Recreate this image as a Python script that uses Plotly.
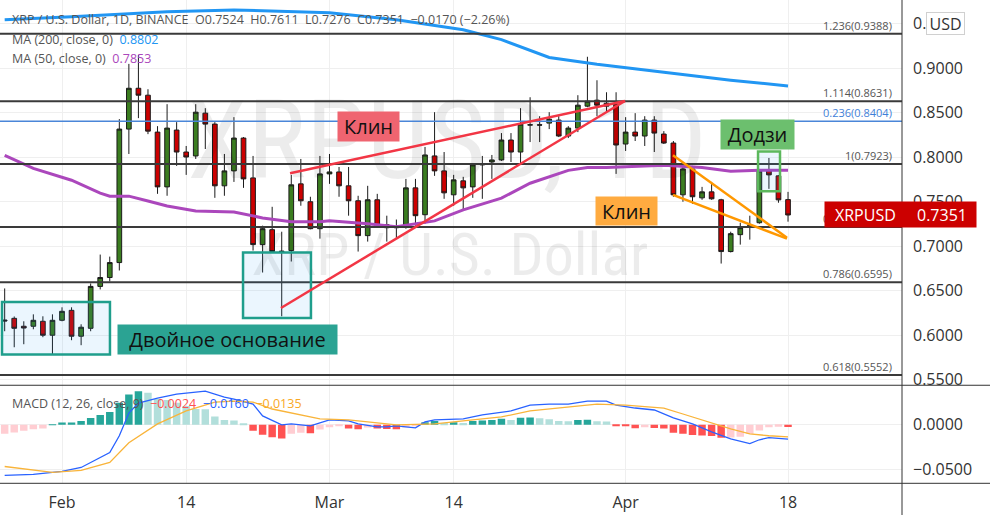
import plotly.graph_objects as go
import pandas as pd

# ---------------- data ----------------
start_date = "2022-01-26"
end_date = "2022-04-18"

opens = [0.6170,0.6189,0.6100,0.6100,0.6156,0.5999,0.6167,0.6279,0.5988,0.6077,
         0.6548,0.6648,0.6816,0.8317,0.8776,0.8698,0.8283,0.7667,0.8306,0.8059,
         0.8015,0.8496,0.8373,0.7679,0.7847,0.8216,0.7768,0.7018,0.7186,0.6945,
         0.6951,0.7701,0.7500,0.7197,0.7813,0.7835,0.7679,0.7511,0.7119,0.7522,
         0.7242,0.7208,0.7220,0.7656,0.7354,0.8015,0.7847,0.7578,0.7735,0.7667,
         0.7914,0.7947,0.7970,0.8194,0.8059,0.8362,0.8365,0.8384,0.8418,0.8239,
         0.8328,0.8575,0.8642,0.8608,0.8597,0.8149,0.8283,0.8239,0.8418,0.8261,
         0.8160,0.7578,0.7869,0.7544,0.7611,0.7522,0.6940,0.7130,0.7220,0.7264,
         0.7847,0.7791,0.7524]
highs = [0.6525,0.6210,0.6156,0.6234,0.6212,0.6234,0.6313,0.6313,0.6122,0.6581,
         0.6906,0.6883,0.8429,0.9050,0.9150,0.8765,0.8350,0.8597,0.8395,0.8127,
         0.8597,0.8552,0.8395,0.8037,0.8451,0.8227,0.8015,0.7231,0.7443,0.7163,
         0.7802,0.7981,0.7556,0.8015,0.8037,0.7891,0.7891,0.7567,0.7679,0.7589,
         0.7343,0.7300,0.7757,0.7757,0.8116,0.8507,0.8059,0.7802,0.7780,0.7936,
         0.8015,0.8026,0.8272,0.8272,0.8552,0.8675,0.8462,0.8507,0.8462,0.8350,
         0.8698,0.9130,0.8866,0.8731,0.8731,0.8451,0.8496,0.8462,0.8462,0.8294,
         0.8183,0.7903,0.7903,0.7667,0.7723,0.7533,0.7163,0.7264,0.7343,0.7860,
         0.7992,0.7800,0.7611]
lows = [0.6044,0.5864,0.5898,0.6066,0.5977,0.5786,0.6156,0.5943,0.5887,0.6044,
        0.6514,0.6604,0.6727,0.8037,0.8440,0.8260,0.7589,0.7567,0.7903,0.7802,
        0.7981,0.8093,0.7544,0.7567,0.7723,0.7656,0.6951,0.6704,0.6930,0.6212,
        0.6828,0.7455,0.7190,0.7085,0.7701,0.7556,0.7343,0.6940,0.7052,0.7208,
        0.7052,0.7085,0.7197,0.7231,0.7253,0.7791,0.7533,0.7455,0.7399,0.7544,
        0.7533,0.7757,0.7959,0.7947,0.7925,0.8171,0.8171,0.8317,0.8227,0.8216,
        0.8283,0.8563,0.8462,0.8518,0.7813,0.8071,0.8183,0.8127,0.8059,0.8149,
        0.7556,0.7500,0.7477,0.7522,0.7522,0.6805,0.6930,0.7018,0.7074,0.7253,
        0.7645,0.7489,0.7276]
closes = [0.6160,0.6077,0.6080,0.6167,0.5999,0.6167,0.6268,0.5988,0.6089,0.6548,
          0.6648,0.6816,0.8317,0.8776,0.8698,0.8294,0.7667,0.8328,0.8059,0.8003,
          0.8507,0.8373,0.7679,0.7847,0.8216,0.7757,0.7018,0.7197,0.6940,0.6940,
          0.7690,0.7511,0.7197,0.7813,0.7835,0.7679,0.7511,0.7119,0.7522,0.7231,
          0.7208,0.7220,0.7656,0.7343,0.8026,0.7847,0.7600,0.7746,0.7656,0.7914,
          0.7925,0.7970,0.8194,0.8059,0.8373,0.8365,0.8362,0.8429,0.8239,0.8328,
          0.8586,0.8631,0.8586,0.8575,0.8138,0.8283,0.8239,0.8418,0.8272,0.8160,
          0.7578,0.7869,0.7556,0.7611,0.7533,0.6940,0.7141,0.7208,0.7231,0.7847,
          0.7802,0.7521,0.7351]

ma200_dates = ["2022-01-26","2022-02-02","2022-02-12","2022-02-19","2022-03-01","2022-03-08",
               "2022-03-15","2022-03-19","2022-03-24","2022-03-29","2022-04-05","2022-04-12","2022-04-18"]
ma200_vals = [0.9546,0.9579,0.9635,0.9657,0.9624,0.9546,0.9434,0.9323,0.9122,0.9045,0.8955,0.8866,0.8802]

ma50_dates = ["2022-01-26","2022-01-29","2022-02-02","2022-02-05","2022-02-06","2022-02-08","2022-02-10",
              "2022-02-12","2022-02-15","2022-02-19","2022-02-22","2022-02-25","2022-02-28","2022-03-01",
              "2022-03-05","2022-03-08","2022-03-12","2022-03-15","2022-03-19","2022-03-22","2022-03-26",
              "2022-03-28","2022-03-30","2022-04-02","2022-04-05","2022-04-09","2022-04-12","2022-04-15",
              "2022-04-18"]
ma50_vals = [0.8020,0.7875,0.7742,0.7597,0.7563,0.7563,0.7508,0.7452,0.7396,0.7385,0.7318,0.7274,
             0.7274,0.7285,0.7252,0.7218,0.7285,0.7408,0.7541,0.7708,0.7853,0.7886,0.7886,0.7898,
             0.7909,0.7886,0.7842,0.7853,0.7853]

macd_hist = [-0.0100,-0.0085,-0.0065,-0.0050,-0.0040,0.0003,0.0026,0.0028,0.0044,0.0078,
             0.0110,0.0144,0.0248,0.0342,0.0378,0.0360,0.0289,0.0280,0.0248,0.0211,
             0.0178,0.0175,0.0093,0.0055,0.0050,0.0010,-0.0067,-0.0111,-0.0140,-0.0152,
             -0.0100,-0.0089,-0.0095,-0.0052,-0.0026,-0.0015,-0.0041,-0.0050,-0.0030,-0.0040,
             -0.0045,-0.0050,-0.0030,-0.0010,0.0030,0.0044,0.0020,0.0030,0.0020,0.0044,
             0.0048,0.0055,0.0070,0.0055,0.0080,0.0082,0.0074,0.0063,0.0044,0.0040,
             0.0055,0.0058,0.0041,0.0038,-0.0005,-0.0010,-0.0037,-0.0026,-0.0035,-0.0041,
             -0.0089,-0.0100,-0.0115,-0.0120,-0.0125,-0.0145,-0.0143,-0.0133,-0.0100,-0.0063,
             -0.0026,-0.0020,-0.0024]

macd_dates = ["2022-01-26","2022-01-29","2022-02-01","2022-02-03","2022-02-06","2022-02-07","2022-02-08",
              "2022-02-09","2022-02-11","2022-02-13","2022-02-16","2022-02-18","2022-02-19","2022-02-21",
              "2022-02-22","2022-02-24","2022-02-25","2022-02-27","2022-02-28","2022-03-01","2022-03-03",
              "2022-03-04","2022-03-06","2022-03-07","2022-03-08","2022-03-10","2022-03-11","2022-03-12",
              "2022-03-15","2022-03-17","2022-03-20","2022-03-22","2022-03-24","2022-03-26","2022-03-28",
              "2022-03-30","2022-03-31","2022-04-02","2022-04-04","2022-04-06","2022-04-08","2022-04-10",
              "2022-04-12","2022-04-14","2022-04-15","2022-04-16","2022-04-18"]
macd_vals = [-0.0567,-0.0556,-0.0522,-0.0478,-0.0311,-0.0122,0.0133,0.0244,0.0300,0.0344,0.0378,
             0.0311,0.0289,0.0233,0.0100,0.0000,0.0011,-0.0011,0.0022,0.0056,0.0044,0.0011,-0.0022,
             -0.0022,-0.0011,-0.0033,0.0033,0.0056,0.0067,0.0111,0.0156,0.0222,0.0233,0.0233,0.0267,
             0.0267,0.0222,0.0189,0.0167,0.0078,0.0011,-0.0078,-0.0156,-0.0211,-0.0167,-0.0144,-0.0160]

signal_dates = ["2022-01-26","2022-01-29","2022-01-31","2022-02-03","2022-02-06","2022-02-08","2022-02-11",
                "2022-02-14","2022-02-17","2022-02-19","2022-02-21","2022-02-23","2022-02-26","2022-02-28",
                "2022-03-03","2022-03-06","2022-03-08","2022-03-12","2022-03-15","2022-03-19","2022-03-22",
                "2022-03-26","2022-03-29","2022-04-01","2022-04-05","2022-04-07","2022-04-10","2022-04-12",
                "2022-04-14","2022-04-16","2022-04-18"]
signal_vals = [-0.0467,-0.0511,-0.0533,-0.0511,-0.0422,-0.0200,0.0011,0.0156,0.0256,0.0267,0.0256,
               0.0178,0.0111,0.0067,0.0056,0.0022,0.0000,0.0011,0.0044,0.0089,0.0156,0.0200,0.0233,
               0.0222,0.0189,0.0122,0.0022,-0.0044,-0.0100,-0.0122,-0.0135]

fib_ratios = ["1.236", "1.114", "1", "0.886", "0.786", "0.618"]
fib_prices = [0.9388, 0.8631, 0.7923, 0.7216, 0.6595, 0.5552]
fib2_ratio = "0.236"
fib2_price = 0.8404

price_ticks = [0.55, 0.60, 0.65, 0.70, 0.75, 0.80, 0.85, 0.90, 0.95]
macd_ticks = [-0.05, 0.0]
date_tickvals = ["2022-02-01", "2022-02-14", "2022-03-01", "2022-03-14", "2022-04-01", "2022-04-18"]
date_ticktext = ["Feb", "14", "Mar", "14", "Apr", "18"]

last_price = 0.7351

# ---------------- helpers ----------------
BASE = pd.Timestamp(start_date)
def day(d):
    return (BASE + pd.Timedelta(days=d)).strftime("%Y-%m-%d %H:%M:%S")

dates = pd.date_range(start_date, end_date, freq="D")
FONT = "Open Sans, Noto Sans, sans-serif"
WM_FONT = "Liberation Sans Narrow, Arial Narrow, Roboto Condensed, Roboto, sans-serif"

# histogram colours (TradingView style)
hist_colors = []
prev = None
for h in macd_hist:
    rising = True if prev is None else h > prev
    if h >= 0:
        hist_colors.append("#26A69A" if rising else "#B2DFDB")
    else:
        hist_colors.append("#FFCDD2" if rising else "#FF5252")
    prev = h

fig = go.Figure()

# watermark (behind everything)
fig.add_trace(go.Scatter(x=[day(46.3)], y=[0.8081], mode="text", text=["XRPUSD, 1D"],
                         textfont=dict(size=110, color="rgba(0,0,0,0.075)", family=WM_FONT),
                         hoverinfo="skip", showlegend=False))
fig.add_trace(go.Scatter(x=[day(46.6)], y=[0.6840], mode="text", text=["XRP / U.S. Dollar"],
                         textfont=dict(size=60, color="rgba(0,0,0,0.075)", family=WM_FONT),
                         hoverinfo="skip", showlegend=False))

fig.add_trace(go.Scatter(x=ma200_dates, y=ma200_vals, mode="lines",
                         line=dict(color="#2196F3", width=3), hoverinfo="skip", showlegend=False))
fig.add_trace(go.Scatter(x=ma50_dates, y=ma50_vals, mode="lines",
                         line=dict(color="#AB47BC", width=3), hoverinfo="skip", showlegend=False))

fig.add_trace(go.Candlestick(
    x=dates, open=opens, high=highs, low=lows, close=closes,
    increasing=dict(line=dict(color="#1b1b1b", width=1), fillcolor="#3b7d20"),
    decreasing=dict(line=dict(color="#1b1b1b", width=1), fillcolor="#cc0000"),
    whiskerwidth=0, hoverinfo="skip", showlegend=False))

fig.add_trace(go.Bar(x=dates, y=macd_hist, marker=dict(color=hist_colors, line=dict(width=0)),
                     xaxis="x2", yaxis="y2", hoverinfo="skip", showlegend=False))
fig.add_trace(go.Scatter(x=macd_dates, y=macd_vals, mode="lines", line=dict(color="#2962FF", width=1.3),
                         xaxis="x2", yaxis="y2", hoverinfo="skip", showlegend=False))
fig.add_trace(go.Scatter(x=signal_dates, y=signal_vals, mode="lines", line=dict(color="#F9B43A", width=1.3),
                         xaxis="x2", yaxis="y2", hoverinfo="skip", showlegend=False))

shapes = []
annotations = []

# fib levels
for r, p in zip(fib_ratios, fib_prices):
    shapes.append(dict(type="line", xref="x domain", yref="y", x0=0, x1=1, y0=p, y1=p,
                       line=dict(color="#3a3a3a", width=2), layer="above"))
    annotations.append(dict(xref="x domain", yref="y", x=0.99, y=p, xanchor="right", yanchor="bottom",
                            text=f"{r}({p:.4f})", showarrow=False, borderpad=0,
                            font=dict(size=11, color="#555", family=FONT)))
shapes.append(dict(type="line", xref="x domain", yref="y", x0=0, x1=1, y0=fib2_price, y1=fib2_price,
                   line=dict(color="#4a86d8", width=1.5), layer="above"))
annotations.append(dict(xref="x domain", yref="y", x=0.99, y=fib2_price, xanchor="right", yanchor="bottom",
                        text=f"{fib2_ratio}({fib2_price:.4f})", showarrow=False, borderpad=0,
                        font=dict(size=11, color="#3f7fd8", family=FONT)))

# pattern boxes
for x0, x1, y0, y1, col in [(-0.28, 11.02, 0.5782, 0.6372, "#1f9e8c"),
                            (24.95, 32.06, 0.6194, 0.6929, "#1f9e8c"),
                            (78.86, 81.16, 0.7619, 0.8065, "#5cb85c")]:
    shapes.append(dict(type="rect", xref="x", yref="y", x0=day(x0), x1=day(x1), y0=y0, y1=y1,
                       line=dict(color=col, width=2.5), fillcolor="rgba(33,150,243,0.09)", layer="above"))

# wedge lines
for x0, y0, x1, y1, col in [(29.87, 0.7820, 64.93, 0.8633, "#F23645"),
                            (28.92, 0.6305, 64.93, 0.8633, "#F23645"),
                            (69.96, 0.8023, 81.89, 0.7096, "#FF9800"),
                            (69.96, 0.7578, 81.89, 0.7085, "#FF9800")]:
    shapes.append(dict(type="line", xref="x", yref="y", x0=day(x0), x1=day(x1), y0=y0, y1=y1,
                       line=dict(color=col, width=2.5), layer="above"))

# labels
for txt, xc, yc, w, h, bg in [("Двойное основание", 23.32, 0.5954, 219, 29, "#2ba393"),
                              ("Клин", 38.08, 0.8349, 61, 29, "#ef6470"),
                              ("Клин", 65.09, 0.7396, 61, 28, "#ffab40"),
                              ("Додзи", 78.80, 0.8259, 73, 29, "#6cbf6e")]:
    annotations.append(dict(xref="x", yref="y", x=day(xc), y=yc, xanchor="center", yanchor="middle",
                            text=txt, showarrow=False, bgcolor=bg, width=w, height=h, borderpad=0,
                            font=dict(size=20, color="#111", family=FONT)))

# separators and price axis line
shapes.append(dict(type="line", xref="paper", yref="paper", x0=0, x1=1, y0=1 - 389 / 520, y1=1 - 389 / 520,
                   line=dict(color="#333", width=1)))
shapes.append(dict(type="line", xref="paper", yref="paper", x0=0, x1=1, y0=1 - 488 / 520, y1=1 - 488 / 520,
                   line=dict(color="#333", width=1)))
shapes.append(dict(type="line", xref="paper", yref="paper", x0=902 / 990, x1=902 / 990, y0=0, y1=1,
                   line=dict(color="#333", width=1)))

# last price badge
annotations.append(dict(xref="paper", yref="y", x=824 / 990, y=last_price, xanchor="left", yanchor="middle",
                        text="&nbsp;", showarrow=False, bgcolor="#cc0000", width=151, height=25, borderpad=0,
                        font=dict(size=16, color="white", family=FONT)))
annotations.append(dict(xref="paper", yref="y", x=833 / 990, y=last_price, xanchor="left", yanchor="middle",
                        text="XRPUSD", showarrow=False, font=dict(size=16, color="white", family=FONT)))
annotations.append(dict(xref="paper", yref="y", x=969 / 990, y=last_price, xanchor="right", yanchor="middle",
                        text=f"{last_price:.4f}", showarrow=False, font=dict(size=16, color="white", family=FONT)))
# currency box
annotations.append(dict(xref="paper", yref="paper", x=945.5 / 990, y=1 - 23.5 / 520, xanchor="center",
                        yanchor="middle", text="USD", showarrow=False, bgcolor="white", bordercolor="#d0d0d0",
                        borderwidth=1, width=37, height=21, borderpad=0,
                        font=dict(size=16, color="#333", family=FONT)))

# legends
g = "#555"
annotations.append(dict(xref="paper", yref="paper", x=10 / 990, y=1 - 20 / 520, xanchor="left", yanchor="middle",
                        showarrow=False, font=dict(size=12.5, color=g, family=FONT),
                        text="XRP / U.S. Dollar, 1D, BINANCE&nbsp;&nbsp;O0.7524&nbsp;&nbsp;H0.7611&nbsp;&nbsp;"
                             "L0.7276&nbsp;&nbsp;C0.7351&nbsp;&nbsp;−0.0170 (−2.26%)"))
annotations.append(dict(xref="paper", yref="paper", x=10 / 990, y=1 - 40 / 520, xanchor="left", yanchor="middle",
                        showarrow=False, font=dict(size=12.5, color=g, family=FONT),
                        text="MA (200, close, 0)&nbsp;&nbsp;<span style='color:#2196F3'>0.8802</span>"))
annotations.append(dict(xref="paper", yref="paper", x=10 / 990, y=1 - 59 / 520, xanchor="left", yanchor="middle",
                        showarrow=False, font=dict(size=12.5, color=g, family=FONT),
                        text="MA (50, close, 0)&nbsp;&nbsp;<span style='color:#AB47BC'>0.7853</span>"))
annotations.append(dict(xref="paper", yref="paper", x=10 / 990, y=1 - 407 / 520, xanchor="left", yanchor="middle",
                        showarrow=False, font=dict(size=12.5, color=g, family=FONT),
                        text="MACD (12, 26, close, 9)&nbsp;&nbsp;<span style='color:#FF5252'>−0.0024</span>"
                             "&nbsp;&nbsp;<span style='color:#2962FF'>−0.0160</span>"
                             "&nbsp;&nbsp;<span style='color:#F9A825'>−0.0135</span>"))

grid = "#efefef"
fig.update_layout(
    width=990, height=520, margin=dict(l=0, r=0, t=0, b=0),
    paper_bgcolor="white", plot_bgcolor="white", showlegend=False, bargap=0.22,
    font=dict(family=FONT, color="#333"),
    shapes=shapes, annotations=annotations, hovermode=False,
    xaxis=dict(domain=[0, 902 / 990], anchor="y", range=[day(-0.49), day(93.93)],
               tickvals=date_tickvals, showticklabels=False, showgrid=True, gridcolor=grid,
               zeroline=False, showline=False, rangeslider=dict(visible=False), ticks=""),
    xaxis2=dict(domain=[0, 902 / 990], anchor="y2", matches="x", tickvals=date_tickvals,
                ticktext=date_ticktext, showgrid=True, gridcolor=grid, zeroline=False, showline=False,
                ticks="", tickfont=dict(size=16, color="#333"), ticklabelstandoff=8),
    yaxis=dict(domain=[1 - 389 / 520, 1], anchor="x", side="right", range=[0.54365, 0.97684],
               tickvals=price_ticks, tickformat=".4f", showgrid=True, gridcolor=grid, zeroline=False,
               ticks="", tickfont=dict(size=16, color="#333"), ticklabelstandoff=10),
    yaxis2=dict(domain=[1 - 488 / 520, 1 - 389 / 520], anchor="x2", side="right",
                range=[-0.06556, 0.04444], tickvals=macd_ticks, tickformat=".4f", showgrid=True,
                gridcolor=grid, zeroline=False, ticks="", tickfont=dict(size=16, color="#333"),
                ticklabelstandoff=10),
)

fig.write_html("out.html", config=dict(displayModeBar=False),
               post_script="document.body.style.margin='0';document.body.style.overflow='hidden';")
